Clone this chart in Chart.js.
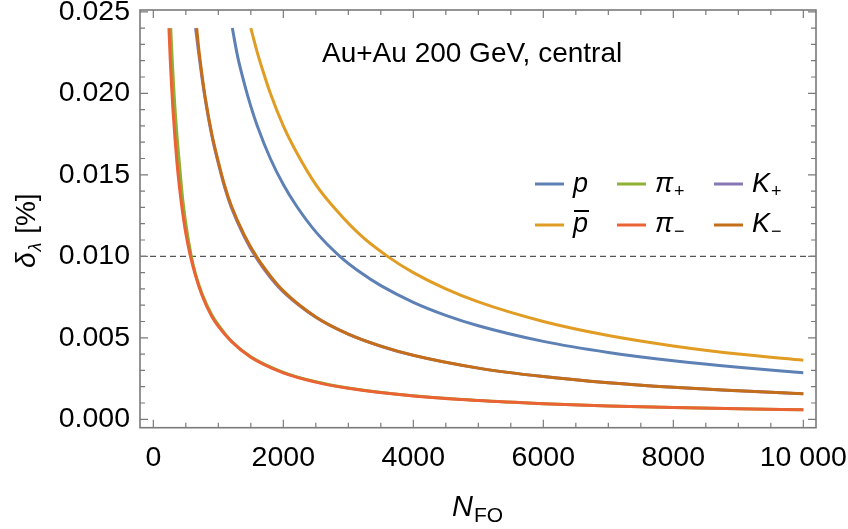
<!DOCTYPE html>
<html>
<head>
<meta charset="utf-8">
<script src="https://cdn.jsdelivr.net/npm/chart.js@4.4.1/dist/chart.umd.min.js"></script>
<style>
  html, body { margin: 0; padding: 0; background: #fff; }
</style>
</head>
<body>
<canvas id="myChart" width="848" height="529"></canvas>
<script>
// values (N_FO vs delta_lambda)
var nP     = [1215, 1300, 1400, 1500, 1600, 1800, 2000, 2200, 2500, 2870, 3200, 3500, 4000, 4500, 5000, 6000, 7000, 8000, 9000, 10000];
var dP     = [0.0240, 0.0222, 0.0206, 0.0192, 0.0180, 0.0160, 0.0144, 0.0131, 0.01150, 0.01000, 0.00897, 0.00820, 0.00718, 0.00638, 0.00574, 0.00478, 0.00410, 0.00359, 0.00319, 0.00286];

var nPbar  = [1500, 1600, 1700, 1800, 2000, 2200, 2500, 2800, 3200, 3620, 4000, 4500, 5000, 6000, 7000, 8000, 9000, 10000];
var dPbar  = [0.0240, 0.0225, 0.0212, 0.0200, 0.0180, 0.0164, 0.0144, 0.01290, 0.01125, 0.00995, 0.00900, 0.00800, 0.00720, 0.00600, 0.00514, 0.00450, 0.00400, 0.00362];

var nPiPlus = [268, 290, 320, 360, 410, 452, 500, 580, 650, 750, 900, 1000, 1200, 1500, 2000, 2500, 3000, 4000, 5000, 6000, 7000, 8000, 9000, 10000];
var dPiPlus = [0.0240, 0.0221, 0.0199, 0.0176, 0.0153, 0.0135, 0.0120, 0.0101, 0.0089, 0.0077, 0.0064, 0.0058, 0.00480, 0.00383, 0.00288, 0.00230, 0.00192, 0.00144, 0.00115, 0.00096, 0.00082, 0.00072, 0.00064, 0.00058];

var nPiMinus = [240, 260, 280, 300, 330, 360, 400, 450, 500, 565, 650, 750, 900, 1000, 1200, 1500, 2000, 2500, 3000, 4000, 5000, 6000, 7000, 8000, 9000, 10000];
var dPiMinus = [0.0240, 0.0221, 0.0205, 0.0191, 0.0174, 0.0159, 0.0143, 0.0127, 0.0114, 0.0101, 0.0088, 0.0076, 0.0063, 0.0057, 0.00478, 0.00381, 0.00285, 0.00228, 0.00190, 0.00143, 0.00115, 0.00096, 0.00082, 0.00072, 0.00064, 0.00058];

var nKPlus = [650, 700, 750, 800, 900, 1000, 1100, 1200, 1400, 1600, 1800, 2000, 2500, 3000, 3500, 4000, 5000, 6000, 7000, 8000, 9000, 10000];
var dKPlus = [0.0240, 0.0224, 0.0209, 0.0196, 0.0174, 0.0157, 0.0142, 0.0130, 0.0112, 0.0098, 0.0087, 0.00782, 0.00626, 0.00522, 0.00448, 0.00392, 0.00314, 0.00262, 0.00224, 0.00196, 0.00175, 0.00156];

var nKMinus = [667, 700, 750, 800, 900, 1000, 1100, 1200, 1400, 1600, 1800, 2000, 2500, 3000, 3500, 4000, 5000, 6000, 7000, 8000, 9000, 10000];
var dKMinus = [0.0240, 0.0227, 0.0211, 0.0197, 0.0175, 0.0158, 0.0143, 0.0131, 0.0113, 0.0099, 0.0088, 0.00788, 0.00628, 0.00523, 0.00449, 0.00393, 0.00314, 0.00262, 0.00224, 0.00196, 0.00175, 0.00157];

var limitLevel = 0.010;
var xTicks = [0, 2000, 4000, 6000, 8000, 10000];
var yTicks = [0.000, 0.005, 0.010, 0.015, 0.020, 0.025];
var xRange = [-205, 10195];
var yRange = [-0.000515, 0.02511];

var colors = {
  p: '#5E81B5', pbar: '#E19C24', piPlus: '#8FB032',
  piMinus: '#EB6235', kPlus: '#8778B3', kMinus: '#C56E1A'
};

function pts(xs, ys) {
  return xs.map(function (x, i) { return { x: x, y: ys[i] }; });
}

function curve(data, color, order) {
  return {
    data: data,
    borderColor: color,
    borderWidth: 3,
    pointRadius: 0,
    fill: false,
    cubicInterpolationMode: 'monotone',
    order: order
  };
}

var FONT = "'Liberation Sans', Arial, Helvetica, sans-serif";

// frame with inward ticks on all four sides
var frameTicks = {
  id: 'frameTicks',
  afterDraw: function (chart) {
    var ctx = chart.ctx, a = chart.chartArea;
    var xs = chart.scales.x, ys = chart.scales.y;
    ctx.save();
    ctx.strokeStyle = '#7a7a7a';
    ctx.lineWidth = 1.2;
    ctx.beginPath();
    for (var v = 0; v <= 10000; v += 500) {
      var px = xs.getPixelForValue(v);
      var len = v % 2000 === 0 ? 8 : 5;
      ctx.moveTo(px, a.bottom); ctx.lineTo(px, a.bottom - len);
      ctx.moveTo(px, a.top); ctx.lineTo(px, a.top + len);
    }
    for (var i = 0; i <= 25; i++) {
      var py = ys.getPixelForValue(i * 0.001);
      var l = i % 5 === 0 ? 8 : 5;
      ctx.moveTo(a.left, py); ctx.lineTo(a.left + l, py);
      ctx.moveTo(a.right, py); ctx.lineTo(a.right - l, py);
    }
    ctx.stroke();
    ctx.lineWidth = 1.6;
    ctx.strokeRect(a.left, a.top, a.right - a.left, a.bottom - a.top);
    ctx.restore();
  }
};

// title, axis titles and legend (need sub/superscripts)
var labels = {
  id: 'labels',
  afterDraw: function (chart) {
    var ctx = chart.ctx;
    ctx.save();
    ctx.fillStyle = '#000';
    ctx.textBaseline = 'alphabetic';
    ctx.textAlign = 'left';

    ctx.font = '28px ' + FONT;
    ctx.fillText('Au+Au 200 GeV, central', 322, 62);

    // x axis title
    ctx.font = 'italic 29px ' + FONT;
    ctx.fillText('N', 452, 516);
    var w = ctx.measureText('N').width;
    ctx.font = '21px ' + FONT;
    ctx.fillText('FO', 452 + w + 1, 522);

    // y axis title
    ctx.save();
    ctx.translate(35, 268);
    ctx.rotate(-Math.PI / 2);
    ctx.font = 'italic 28px ' + FONT;
    ctx.fillText('\u03b4', 0, 0);
    var wd = ctx.measureText('\u03b4').width;
    ctx.font = 'italic 18px ' + FONT;
    ctx.fillText('\u03bb', wd + 1, 6);
    var wl = ctx.measureText('\u03bb').width;
    ctx.font = '28px ' + FONT;
    ctx.fillText(' [%]', wd + wl + 2, 0);
    ctx.restore();

    // legend
    var rows = [184, 225];
    var bases = [192, 232];
    var cols = [535, 617, 714];
    var items = [
      { c: colors.p, r: 0, k: 0, main: 'p' },
      { c: colors.pbar, r: 1, k: 0, main: 'p', bar: true },
      { c: colors.piPlus, r: 0, k: 1, main: '\u03c0', sub: '+' },
      { c: colors.piMinus, r: 1, k: 1, main: '\u03c0', sub: '\u2212' },
      { c: colors.kPlus, r: 0, k: 2, main: 'K', sub: '+' },
      { c: colors.kMinus, r: 1, k: 2, main: 'K', sub: '\u2212' }
    ];
    items.forEach(function (it) {
      var x0 = cols[it.k], y0 = rows[it.r], b = bases[it.r];
      ctx.strokeStyle = it.c;
      ctx.lineWidth = 3;
      ctx.beginPath();
      ctx.moveTo(x0, y0); ctx.lineTo(x0 + 29, y0);
      ctx.stroke();
      ctx.fillStyle = '#000';
      ctx.font = 'italic 27px ' + FONT;
      var tx = x0 + 38;
      ctx.fillText(it.main, tx, b);
      var mw = ctx.measureText(it.main).width;
      if (it.bar) {
        ctx.lineWidth = 2;
        ctx.strokeStyle = '#000';
        ctx.beginPath();
        ctx.moveTo(tx + 1, b - 21); ctx.lineTo(tx + mw + 1, b - 21);
        ctx.stroke();
      }
      if (it.sub) {
        ctx.font = '18px ' + FONT;
        ctx.fillText(it.sub, tx + mw + 1, b + 5);
      }
    });
    ctx.restore();
  }
};

var ctx = document.getElementById('myChart');
var myChart = new Chart(ctx, {
  type: 'line',
  data: {
    datasets: [
      curve(pts(nP, dP), colors.p, 5),
      curve(pts(nPbar, dPbar), colors.pbar, 4),
      curve(pts(nPiPlus, dPiPlus), colors.piPlus, 3),
      curve(pts(nPiMinus, dPiMinus), colors.piMinus, 2),
      curve(pts(nKPlus, dKPlus), colors.kPlus, 1),
      curve(pts(nKMinus, dKMinus), colors.kMinus, 0),
      {
        data: [{ x: xRange[0], y: limitLevel }, { x: xRange[1], y: limitLevel }],
        borderColor: '#555555',
        borderWidth: 1.2,
        borderDash: [6, 4],
        pointRadius: 0,
        fill: false,
        order: 6
      }
    ]
  },
  options: {
    animation: false,
    responsive: false,
    devicePixelRatio: 1,
    layout: { padding: { top: 10, right: 32, left: 0, bottom: 0 } },
    plugins: {
      legend: { display: false },
      tooltip: { enabled: false },
      title: { display: false }
    },
    scales: {
      x: {
        type: 'linear',
        min: xRange[0],
        max: xRange[1],
        grid: { display: false, drawTicks: false },
        border: { display: false },
        afterBuildTicks: function (s) { s.ticks = xTicks.map(function (v) { return { value: v }; }); },
        afterFit: function (s) {
          s.height = 101.3;
          s.paddingLeft = 0; s.paddingRight = 0;
        },
        ticks: {
          autoSkip: false, maxRotation: 0, minRotation: 0,
          padding: 13,
          color: '#000',
          font: { family: FONT, size: 28.5 },
          callback: function (v) { return v === 10000 ? '10 000' : String(v); }
        }
      },
      y: {
        type: 'linear',
        min: yRange[0],
        max: yRange[1],
        grid: { display: false, drawTicks: false },
        border: { display: false },
        afterBuildTicks: function (s) { s.ticks = yTicks.map(function (v) { return { value: v }; }); },
        afterFit: function (s) {
          s.width = 140;
          s.paddingTop = 0; s.paddingBottom = 0;
        },
        ticks: {
          autoSkip: false,
          padding: 10,
          color: '#000',
          font: { family: FONT, size: 28.5 },
          callback: function (v) { return v.toFixed(3); }
        }
      }
    }
  },
  plugins: [frameTicks, labels]
});
</script>
</body>
</html>
